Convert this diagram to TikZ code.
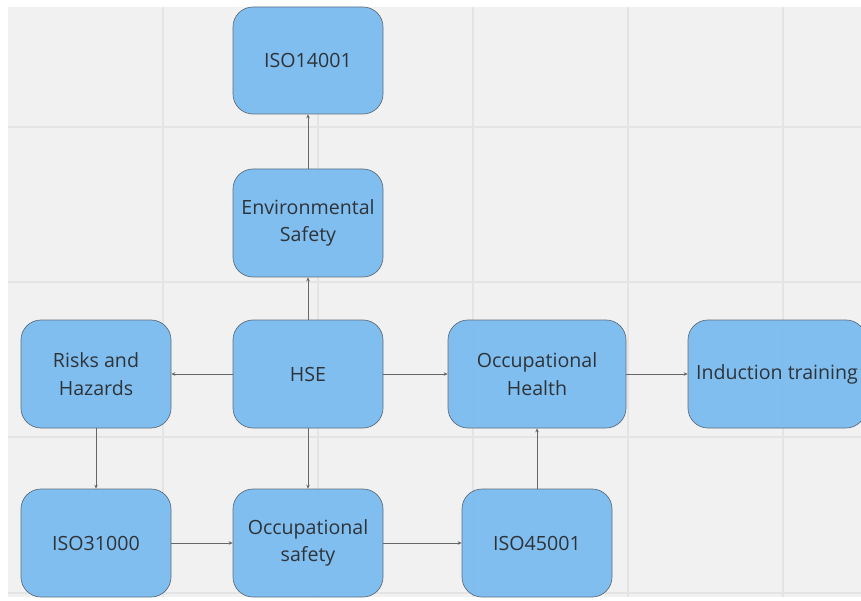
\documentclass[tikz,border=0pt]{standalone}
\usepackage{fontspec}
\setmainfont{Open Sans}
\usetikzlibrary{arrows.meta}
\definecolor{bg}{HTML}{F1F1F1}
\definecolor{gridc}{HTML}{E4E4E4}
\definecolor{boxfill}{HTML}{7ABBF0}
\definecolor{boxline}{HTML}{5E6E7C}
\definecolor{txt}{HTML}{2E3338}
\definecolor{arr}{HTML}{666666}
\tikzset{
  box/.style={draw=boxline, line width=0.7pt, fill=boxfill, fill opacity=0.94, text opacity=1,
    rounded corners=20pt, minimum width=150pt, minimum height=108pt,
    text=txt, align=center, inner sep=2pt,
    font=\fontsize{19.6}{27.5}\selectfont},
  conn/.style={draw=arr, line width=0.8pt, -{Stealth[length=4pt,width=3.5pt]}}
}
\begin{document}
\begin{tikzpicture}[x=1pt,y=-1pt]
\useasboundingbox (0,0) rectangle (861,601);
\clip (0,0) rectangle (861,601);
\fill[white] (0,0) rectangle (861,601);
\fill[bg] (8,7) rectangle (861,597);
\foreach \gx in {163,318,473,628,783} \draw[gridc, line width=1.1pt] (\gx,7) -- (\gx,597);
\foreach \gy in {127,282,437,593} \draw[gridc, line width=1.1pt] (8,\gy) -- (861,\gy);

\node[box, minimum height=107pt] (iso14) at (308,60.5) {ISO14001};
\node[box] (env) at (308,223) {Environmental\\Safety};
\node[box] (risk) at (96,374) {Risks and\\Hazards};
\node[box] (hse) at (308,374) {HSE};
\node[box, minimum width=178pt] (occh) at (537,374) {Occupational\\Health};
\node[box, minimum width=178pt] (ind) at (777,374) {Induction training};
\node[box] (iso31) at (96,543) {ISO31000};
\node[box] (occs) at (308,543) {Occupational\\safety};
\node[box] (iso45) at (537,543) {ISO45001};

\draw[conn] (hse) -- (env);
\draw[conn] (env) -- (iso14);
\draw[conn] (hse) -- (risk);
\draw[conn] (hse) -- (occh);
\draw[conn] (occh) -- (ind);
\draw[conn] (risk) -- (iso31);
\draw[conn] (hse) -- (occs);
\draw[conn] (iso31) -- (occs);
\draw[conn] (occs) -- (iso45);
\draw[conn] (iso45) -- (occh);
\end{tikzpicture}
\end{document}
